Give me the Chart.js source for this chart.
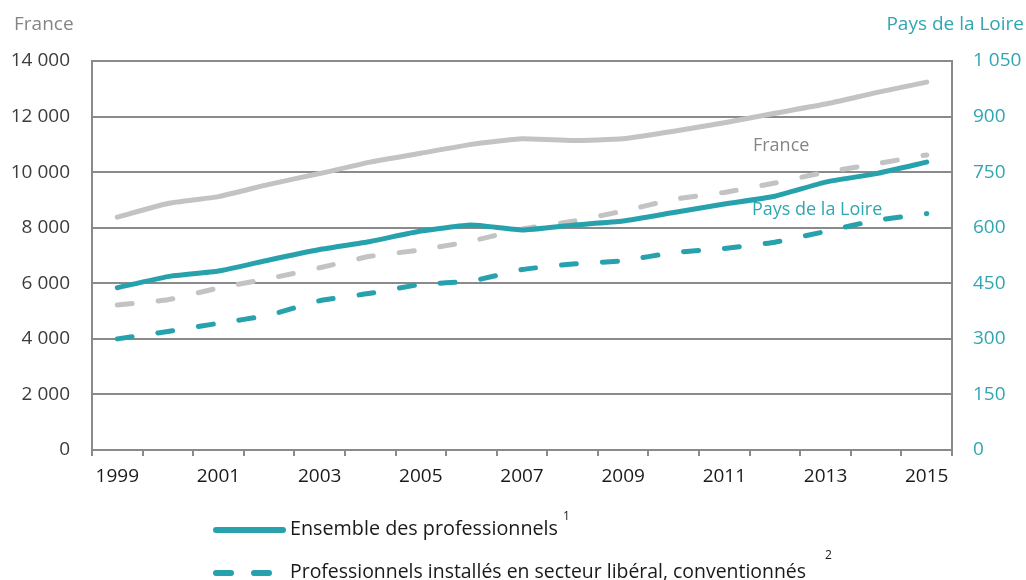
<!DOCTYPE html>
<html>
<head>
<meta charset="utf-8">
<script src="https://cdn.jsdelivr.net/npm/chart.js@4/dist/chart.umd.min.js"></script>
<style>
  html, body { margin: 0; padding: 0; background: #fff; }
  #wrap { position: relative; width: 1026px; height: 580px; overflow: hidden; }
</style>
</head>
<body>
<div id="wrap"><canvas id="chart" width="1026" height="580"></canvas></div>
<script>
// Effectifs 1999-2015, France (axe gauche) et Pays de la Loire (axe droit)
const years = ["1999","2000","2001","2002","2003","2004","2005","2006","2007","2008","2009","2010","2011","2012","2013","2014","2015"];

const franceAll = [8380, 8870, 9120, 9560, 9950, 10360, 10680, 11000, 11200, 11140, 11200, 11470, 11780, 12120, 12450, 12860, 13240];
const franceLib = [5220, 5410, 5830, 6170, 6560, 6970, 7200, 7520, 7950, 8230, 8600, 9020, 9270, 9610, 10000, 10300, 10620];
const pdlAll = [438, 468, 483, 513, 541, 563, 591, 607, 594, 607, 618, 641, 664, 685, 723, 746, 777];
const pdlLib = [300, 320, 342, 364, 403, 423, 447, 456, 487, 502, 511, 533, 544, 561, 590, 620, 638];

const leftTicks = { min: 0, max: 14000, step: 2000 };
const rightTicks = { min: 0, max: 1050, step: 150 };

const TEAL = "#27a2ac";
const TEAL_TXT = "#30a6b2";
const GREY_LINE = "#c3c3c3";
const AXIS = "#8a8a8a";
const FONT = "'Open Sans', 'Noto Sans', sans-serif";

const fmt = (v) => String(v).replace(/\B(?=(\d{3})+(?!\d))/g, " ");

const extras = {
  id: "extras",
  afterDraw(chart) {
    const ctx = chart.ctx;
    const x = chart.scales.x;
    const yl = chart.scales.yL;
    ctx.save();
    ctx.textBaseline = "middle";
    ctx.font = "19px " + FONT;

    // axis titles
    ctx.fillStyle = "#858585";
    ctx.textAlign = "left";
    ctx.fillText("France", 14, 25);
    ctx.fillStyle = TEAL_TXT;
    ctx.textAlign = "right";
    ctx.fillText("Pays de la Loire", 1024, 25);

    // series annotations
    ctx.font = "18px " + FONT;
    ctx.textAlign = "left";
    ctx.fillStyle = "#858585";
    ctx.fillText("France", x.getPixelForValue(13) - 22, yl.getPixelForValue(10950));
    ctx.fillStyle = TEAL_TXT;
    ctx.fillText("Pays de la Loire", x.getPixelForValue(13) - 23, yl.getPixelForValue(8650));

    // legend
    ctx.strokeStyle = TEAL;
    ctx.lineWidth = 6;
    ctx.lineCap = "round";
    ctx.beginPath();
    ctx.moveTo(216, 530);
    ctx.lineTo(283, 530);
    ctx.stroke();
    ctx.setLineDash([15, 23]);
    ctx.beginPath();
    ctx.moveTo(216, 573);
    ctx.lineTo(272, 573);
    ctx.stroke();
    ctx.setLineDash([]);

    ctx.fillStyle = "#1a1a1a";
    ctx.font = "20px " + FONT;
    ctx.fillText("Ensemble des professionnels", 290, 529, 268);
    ctx.fillText("Professionnels installés en secteur libéral, conventionnés", 290, 572, 516);
    ctx.font = "12px " + FONT;
    ctx.fillText("1", 563, 517);
    ctx.fillText("2", 825, 556);
    ctx.restore();
  }
};

new Chart(document.getElementById("chart"), {
  type: "line",
  data: {
    labels: years,
    datasets: [
      { label: "Pays de la Loire - ensemble", data: pdlAll, yAxisID: "yR",
        borderColor: TEAL, borderWidth: 5, borderCapStyle: "round", borderJoinStyle: "round" },
      { label: "Pays de la Loire - libéral conventionné", data: pdlLib, yAxisID: "yR",
        borderColor: TEAL, borderWidth: 5, borderDash: [15, 26], borderCapStyle: "round", borderJoinStyle: "round" },
      { label: "France - ensemble", data: franceAll, yAxisID: "yL",
        borderColor: GREY_LINE, borderWidth: 5, borderCapStyle: "round", borderJoinStyle: "round" },
      { label: "France - libéral conventionné", data: franceLib, yAxisID: "yL",
        borderColor: GREY_LINE, borderWidth: 5, borderDash: [15, 26], borderCapStyle: "round", borderJoinStyle: "round" }
    ]
  },
  options: {
    responsive: false,
    animation: false,
    events: [],
    elements: { point: { radius: 0 }, line: { tension: 0.15, fill: false } },
    layout: { padding: { top: 61, left: 0, right: 0, bottom: 0 } },
    plugins: { legend: { display: false }, tooltip: { enabled: false } },
    scales: {
      x: {
        type: "category",
        offset: true,
        afterFit: (s) => { s.height = 130; },
        grid: { offset: true, drawOnChartArea: false, drawTicks: true, tickLength: 6, color: AXIS, lineWidth: 2 },
        border: { color: AXIS, width: 2 },
        ticks: {
          autoSkip: false, maxRotation: 0, padding: 9, color: "#1a1a1a",
          font: { family: FONT, size: 19 },
          callback: function (v, i) { return i % 2 === 0 ? this.getLabelForValue(v) : ""; }
        }
      },
      yL: {
        position: "left",
        min: leftTicks.min, max: leftTicks.max,
        afterFit: (s) => { s.width = 92; },
        grid: { color: AXIS, lineWidth: 2, drawTicks: false },
        border: { color: AXIS, width: 2 },
        ticks: { stepSize: leftTicks.step, padding: 22, color: "#3c3c3c",
          font: { family: FONT, size: 19 }, callback: (v) => fmt(v) }
      },
      yR: {
        position: "right",
        min: rightTicks.min, max: rightTicks.max,
        afterFit: (s) => { s.width = 74; },
        grid: { drawOnChartArea: false, drawTicks: false },
        border: { color: AXIS, width: 2 },
        ticks: { stepSize: rightTicks.step, padding: 21, color: TEAL_TXT,
          font: { family: FONT, size: 19 }, callback: (v) => fmt(v) }
      }
    }
  },
  plugins: [extras]
});
</script>
</body>
</html>
